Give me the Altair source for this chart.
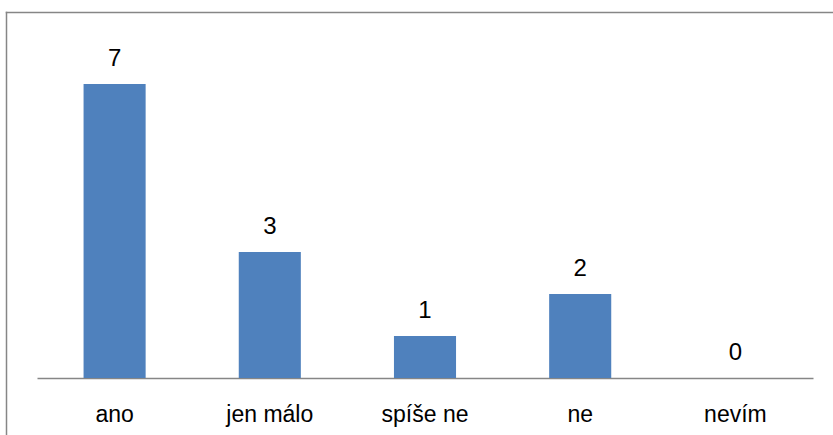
import altair as alt
import pandas as pd

categories = ["ano", "jen málo", "spíše ne", "ne", "nevím"]
values = [7, 3, 1, 2, 0]

df = pd.DataFrame({"kategorie": categories, "pocet": values})

FONT = "Liberation Sans"

x_enc = alt.X(
    "kategorie:N",
    sort=categories,
    scale=alt.Scale(paddingInner=0.6, paddingOuter=0.3),
    axis=alt.Axis(
        title=None, labelAngle=0, ticks=False, grid=False,
        domainColor="#868686", domainWidth=1.5,
        labelFont=FONT, labelFontSize=23, labelColor="#000000",
        labelBaseline="alphabetic", labelPadding=43,
    ),
)
y_enc = alt.Y(
    "pocet:Q",
    scale=alt.Scale(domain=[0, 8], nice=False),
    axis=None,
)

edge = pd.DataFrame({"a": [0]})
frame_left = alt.Chart(edge).mark_rule(color="#868686", strokeWidth=1.5).encode(
    x=alt.value(-30.5), y=alt.value(-30.25), y2=alt.value(400)
)
frame_top = alt.Chart(edge).mark_rule(color="#868686", strokeWidth=1.5).encode(
    x=alt.value(-31.25), x2=alt.value(800), y=alt.value(-29.5)
)

bars = alt.Chart(df).mark_bar(color="#4F81BD").encode(x=x_enc, y=y_enc)

labels = alt.Chart(df).mark_text(
    baseline="alphabetic", dy=-18, font=FONT, fontSize=24, color="#000000"
).encode(x=x_enc, y=y_enc, text="pocet:Q")

chart = alt.layer(frame_left, frame_top, bars, labels).properties(
    width=776, height=336,
    padding={"left": 37, "top": 42, "right": 20, "bottom": 57},
    autosize=alt.AutoSizeParams(type="none"),
    background="#ffffff",
).configure_view(stroke=None)

chart.save("out.html", embed_options={"renderer": "svg", "actions": False})
